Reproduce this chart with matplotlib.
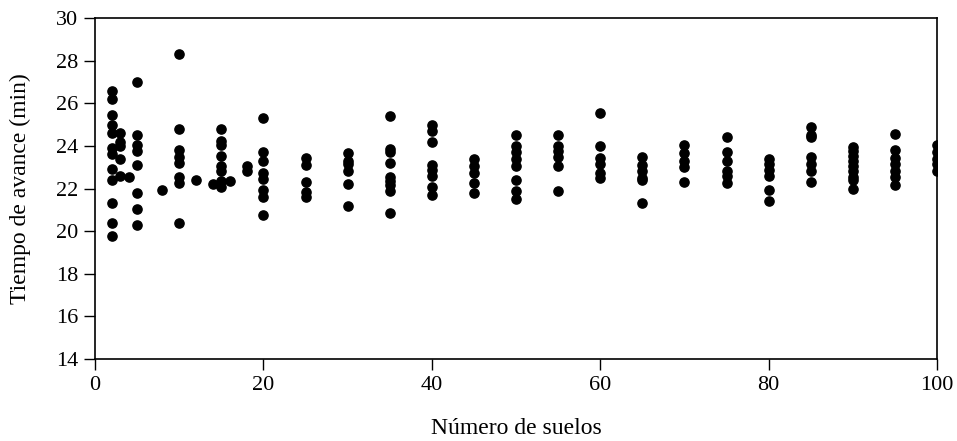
import matplotlib
matplotlib.use("Agg")
import matplotlib.pyplot as plt
import numpy as np

plt.rcParams['font.family'] = ['Liberation Serif', 'DejaVu Serif']

# tiempo de avance (min) para cada numero de suelos
suelos = [2, 3, 4, 5, 8, 10, 12, 14, 15, 16, 18, 20, 25, 30, 35, 40, 45,
          50, 55, 60, 65, 70, 75, 80, 85, 90, 95, 100]
tiempos = [
    [26.6, 26.2, 25.45, 25.0, 24.6, 23.9, 23.6, 22.9, 22.4, 21.3, 20.4, 19.75],
    [24.6, 24.2, 24.0, 23.4, 22.6],
    [22.55],
    [27.0, 24.5, 24.05, 23.75, 23.1, 21.8, 21.05, 20.3],
    [21.95],
    [28.3, 24.8, 23.8, 23.5, 23.2, 22.55, 22.25, 20.4],
    [22.4],
    [22.2],
    [24.8, 24.25, 24.05, 23.55, 23.05, 22.8, 22.35, 22.05],
    [22.35],
    [23.05, 22.8],
    [25.3, 23.7, 23.3, 22.75, 22.45, 21.95, 21.6, 20.75],
    [23.45, 23.1, 22.3, 21.85, 21.6],
    [23.65, 23.3, 23.15, 22.8, 22.2, 21.2],
    [25.4, 23.85, 23.7, 23.2, 22.55, 22.35, 22.15, 21.9, 20.85],
    [25.0, 24.7, 24.2, 23.1, 22.85, 22.6, 22.05, 21.7],
    [23.4, 23.05, 22.75, 22.25, 21.8],
    [24.5, 24.0, 23.7, 23.4, 23.05, 22.4, 21.9, 21.5],
    [24.5, 24.0, 23.75, 23.5, 23.05, 21.9],
    [25.55, 24.0, 23.45, 23.15, 22.75, 22.5],
    [23.5, 23.1, 22.8, 22.5, 22.4, 21.3],
    [24.05, 23.65, 23.3, 23.0, 22.3],
    [24.4, 23.7, 23.3, 22.8, 22.6, 22.25],
    [23.4, 23.15, 22.85, 22.6, 21.95, 21.4],
    [24.9, 24.5, 24.4, 23.5, 23.15, 22.8, 22.3],
    [23.95, 23.75, 23.55, 23.3, 23.05, 22.8, 22.55, 22.4, 22.0],
    [24.55, 23.8, 23.45, 23.15, 22.8, 22.55, 22.15],
    [24.05, 23.7, 23.4, 23.15, 22.8],
]

xs = []
ys = []
for s, ts in zip(suelos, tiempos):
    for t in ts:
        xs.append(s)
        ys.append(t)

fig = plt.figure(figsize=(9.57, 4.41), dpi=100)
ax = fig.add_axes([0.0993, 0.186, 0.8798, 0.773])
ax.scatter(xs, ys, s=44, color='black', zorder=3)

ax.set_xlim(0, 100)
ax.set_ylim(14, 30)
ax.set_xticks(np.arange(0, 101, 20))
ax.set_yticks(np.arange(14, 31, 2))
ax.tick_params(direction='out', length=8, width=1, labelsize=16, pad=4)
for sp in ax.spines.values():
    sp.set_linewidth(1.2)

ax.set_xlabel("Número de suelos", fontsize=17, labelpad=17)
ax.set_ylabel("Tiempo de avance (min)", fontsize=17, labelpad=18)

fig.savefig("out.png", dpi=100)
